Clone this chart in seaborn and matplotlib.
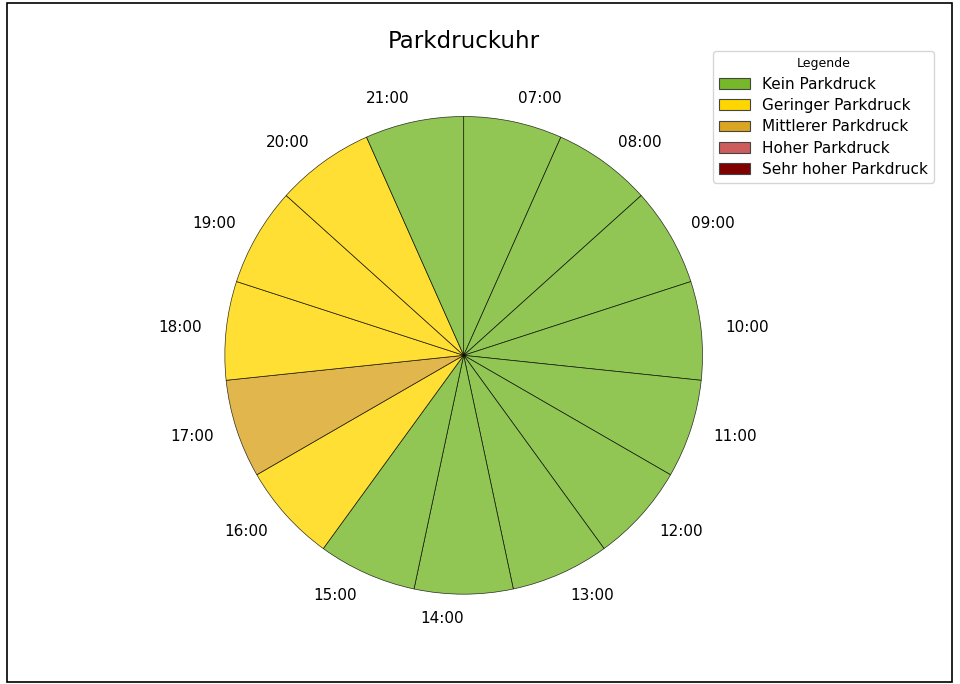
import matplotlib
matplotlib.use("Agg")
import matplotlib.pyplot as plt
import seaborn as sns
from matplotlib.patches import Patch, Rectangle

sns.set_style("white")
plt.rcParams['font.family'] = ['DejaVu Sans']
plt.rcParams['text.color'] = 'black'

hours = ["07:00", "08:00", "09:00", "10:00", "11:00", "12:00", "13:00",
         "14:00", "15:00", "16:00", "17:00", "18:00", "19:00", "20:00", "21:00"]
levels = [0, 0, 0, 0, 0, 0, 0, 0, 0, 1, 2, 1, 1, 1, 0]
slice_sizes = [1] * len(hours)
level_names = ["Kein Parkdruck", "Geringer Parkdruck", "Mittlerer Parkdruck",
               "Hoher Parkdruck", "Sehr hoher Parkdruck"]
level_colors = ["#76B82A", "#FFD700", "#DAA520", "#CD5C5C", "#800000"]

palette = sns.color_palette(level_colors)

fig = plt.figure(figsize=(9.6, 6.84), dpi=100)
ax = fig.add_axes([0.172, 0.044, 0.622, 0.873])
wedges, texts = ax.pie(slice_sizes, labels=hours,
                       colors=[palette[l] for l in levels],
                       startangle=90, counterclock=False,
                       wedgeprops=dict(edgecolor="black", linewidth=0.5, alpha=0.8),
                       textprops=dict(fontsize=11, color="black"), labeldistance=1.1)
ax.set_aspect("equal")
ax.set_title("Parkdruckuhr", fontsize=16.5, pad=6, color="black")

handles = [Patch(facecolor=c, edgecolor="#444444", linewidth=0.8, label=n)
           for c, n in zip(palette, level_names)]
leg = fig.legend(handles=handles, title="Legende", loc="upper right",
                 bbox_to_anchor=(934 / 960, 1 - 51 / 684), borderaxespad=0,
                 fontsize=11, title_fontsize=9, labelspacing=0.42,
                 frameon=True)
for t in leg.get_texts():
    t.set_color("black")
leg.get_title().set_color("black")

fig.patches.append(Rectangle((7 / 960, 2 / 684), 945 / 960, 679 / 684,
                             transform=fig.transFigure, fill=False,
                             edgecolor="black", linewidth=1.2))

fig.savefig("out.png", dpi=100)
